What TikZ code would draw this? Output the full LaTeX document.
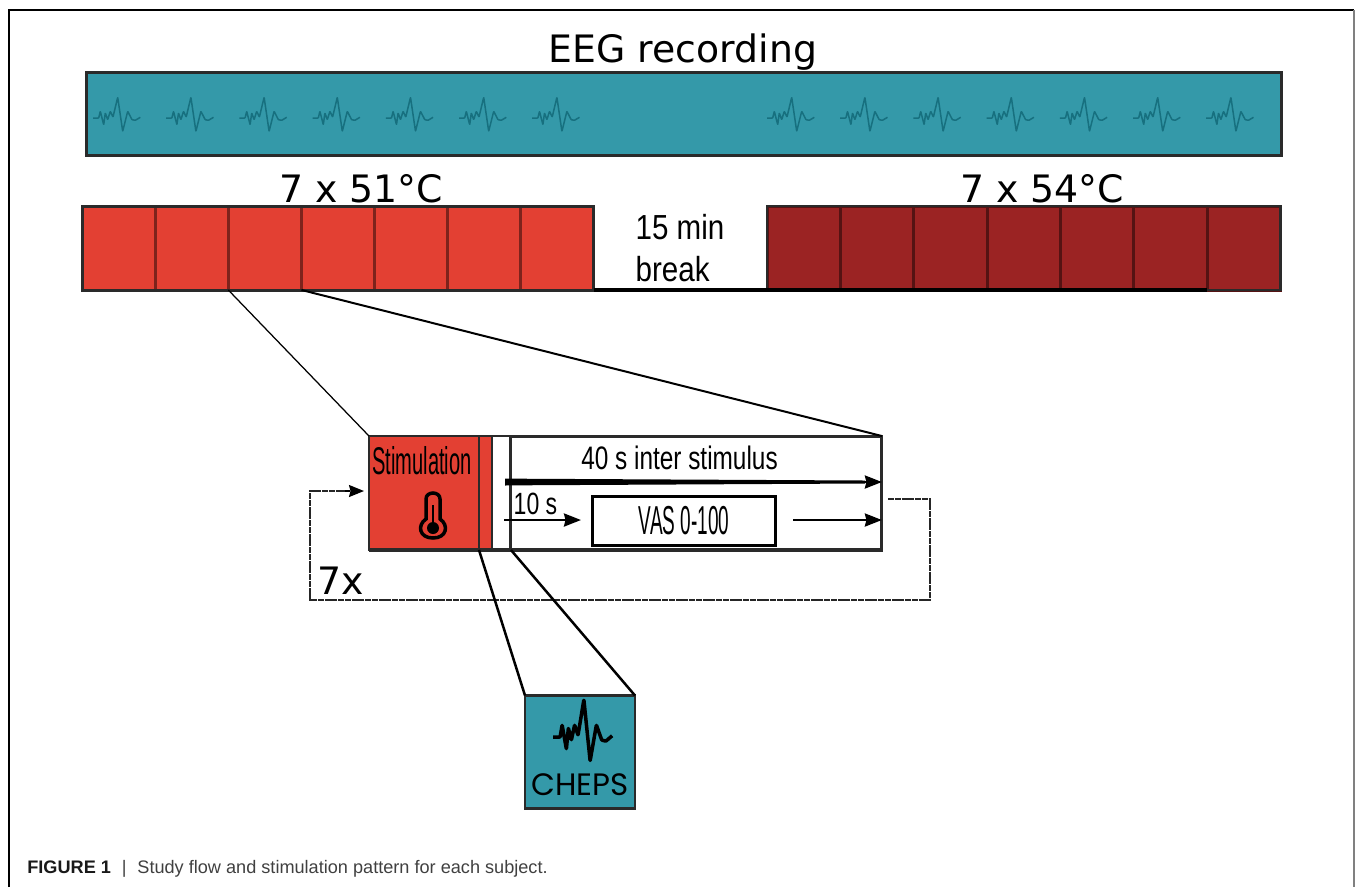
\documentclass[tikz,border=0pt]{standalone}
\usepackage{fontspec}
\usepackage{tikz}
\usetikzlibrary{arrows.meta, positioning}
\setmainfont{DejaVu Sans}
\newfontfamily\capfont{Liberation Sans}
\newfontfamily\cheapfont{Poppins}
\newfontfamily\narrowfont[FakeStretch=0.75]{Liberation Sans}
\newfontfamily\breakfont[FakeStretch=0.85]{Liberation Sans}
\newfontfamily\stimfont[FakeStretch=0.52]{Liberation Sans}
\newfontfamily\vasfont[FakeStretch=0.47]{Liberation Sans}
\definecolor{mTeal}{HTML}{3499A9}
\definecolor{mTealDark}{HTML}{17707F}
\definecolor{mRed}{HTML}{E34033}
\definecolor{mDarkRed}{HTML}{9B2323}
\definecolor{mEdge}{HTML}{2A2A2A}

\begin{document}
\begin{tikzpicture}[
    x=0.02cm, y=-0.02cm,
    tealbox/.style={draw=mEdge, line width=0.06cm, fill=mTeal, inner sep=0, outer sep=0},
    redcell/.style={draw=black!45!mRed, line width=0.06cm, fill=mRed, minimum width=1.463cm, minimum height=1.68cm, inner sep=0, outer sep=0},
    darkcell/.style={draw=black!45!mDarkRed, line width=0.06cm, fill=mDarkRed, minimum width=1.468cm, minimum height=1.68cm, inner sep=0, outer sep=0},
    stimpart/.style={draw=mEdge, line width=0.04cm, minimum height=2.28cm, inner sep=0, outer sep=0},
    lab/.style={inner sep=0, font=\fontsize{21.5}{24}\selectfont},
    outline/.style={draw=mEdge, line width=0.06cm},
    zoomline/.style={draw=black, line width=0.05cm},
    arr/.style={-{Stealth[length=0.34cm, width=0.26cm, inset=0.03cm]}, line width=0.05cm},
    loopline/.style={draw=black!85, line width=0.03cm, dash pattern=on 0.12cm off 0.015cm},
    wave/.pic={
        \draw[line join=round, rounded corners=0.3pt, pic actions] (0,0) -- (5.7,0) -- (7.3,-6.7) -- (10.7,6.7) -- (12.3,-5) -- (14.7,1.7)
            -- (17.3,-6.7) -- (20,-1) -- (24.7,-20.7) -- (29.7,13.3) -- (34.7,-6.7) -- (39,1.7) -- (42.3,2.3) -- (47.3,-0.7);
    }
]
    \useasboundingbox (0,0) rectangle (1355,887);

    % Frame
    \coordinate (fbl) at (9,887);
    \coordinate (ftl) at (9,10);
    \coordinate (ftr) at (1354,10);
    \coordinate (fbr) at (1354,887);
    \draw[line width=0.03cm] (fbl) -- (ftl) -- (ftr);
    \draw[line width=0.03cm, gray] (ftr) -- (fbr);

    % EEG
    \node[lab] (eegl) at (683,52) {EEG recording};
    \node[tealbox, minimum width=23.92cm, minimum height=1.66cm] (eeg) at (684,113.5) {};
    \foreach \x in {93,166.2,239.4,312.6,385.8,459,532.2,767,840.2,913.4,986.6,1059.8,1133,1206.2}
        \pic[draw=mTealDark, line width=0.03cm] at (\x,118) {wave};

    % 51 degrees
    \node[redcell] (r1) at (118.6,248) {};
    \foreach \i [remember=\i as \j (initially 1)] in {2,...,7}
        \node[redcell, right=0pt of r\j] (r\i) {};
    \draw[outline] (r1.north west) rectangle (r7.south east);
    \node[lab] (rl) at (361,189) {7 x 51°C};

    % 54 degrees
    \node[darkcell] (b1) at (803.7,248) {};
    \foreach \i [remember=\i as \j (initially 1)] in {2,...,7}
        \node[darkcell, right=0pt of b\j] (b\i) {};
    \draw[draw=mEdge, line width=0.05cm] (b1.north west) rectangle (b7.south east);
    \draw[line width=0.09cm] (r7.south east) -- (b1.south west) -- (b6.south east);
    \node[lab] (bl) at (1042,189) {7 x 54°C};

    % Break
    \node[inner sep=0, align=left, font=\fontsize{19.8}{23.8}\selectfont\breakfont] (brk) at (680,248) {15 min\\break};

    % Stimulation block
    \node[stimpart, fill=mRed, minimum width=2.2cm, anchor=west] (stim) at (369,493) {};
    \node[stimpart, fill=mRed, minimum width=0.26cm, right=0pt of stim] (pulse) {};
    \node[stimpart, line width=0.025cm, minimum width=0.38cm, right=0pt of pulse] (gap) {};
    \node[stimpart, line width=0.06cm, minimum width=7.42cm, right=0pt of gap] (rest) {};
    \draw[line width=0.05cm, mEdge] (stim.north west) -- (rest.north east);
    \draw[line width=0.07cm, mEdge] (stim.south west) -- (rest.south east);
    \node[inner sep=0, font=\fontsize{22}{24}\selectfont\stimfont] (stiml) at (422,461) {Stimulation};

    % Thermometer
    \draw[line width=0.07cm] (426,519) -- (426,499) .. controls (426,491) and (440,491) .. (440,499) -- (440,519)
        .. controls (449,525) and (447,538) .. (433,538) .. controls (419,538) and (417,525) .. (426,519) -- cycle;
    \fill (433,528) circle [radius=0.12cm];
    \draw[line width=0.03cm] (433,505) -- (433,525);

    % Timing
    \node[inner sep=0, font=\fontsize{18.5}{20}\selectfont\narrowfont] (isi) at (679.5,458) {40 s inter stimulus};
    \node[inner sep=0, font=\fontsize{17.5}{20}\selectfont\narrowfont] (tens) at (535.5,504) {10 s};
    \node[draw=black, line width=0.06cm, minimum width=3.65cm, minimum height=0.98cm, inner sep=0, outer sep=0,
        font=\fontsize{23}{24}\selectfont\vasfont] (vas) at (684,520.5) {VAS 0-100};
    \coordinate (isia) at (505,482);
    \coordinate (tena) at (504,520);
    \coordinate (vasa) at (793,520);
    \fill (505,478.5) -- (520,478.7) -- (865,480.5) -- (865,483.5) -- (520,485.3) -- (505,485.5) -- cycle;
    \draw[arr] (isia) -- (rest.east |- isia);
    \draw[arr] (tena) -- (581,520);
    \draw[arr] (vasa) -- (rest.east |- vasa);

    % Loop
    \coordinate (lo) at (888,499);
    \coordinate (lne) at (930,499);
    \coordinate (lse) at (930,600);
    \coordinate (lsw) at (310,600);
    \coordinate (lnw) at (310,491);
    \coordinate (lin) at (stim.west |- lnw);
    \draw[loopline] (lo) -- (lne) -- (lse) -- (lsw) -- (lnw) -- (345,491);
    \draw[-{Stealth[length=0.3cm, width=0.24cm, inset=0.03cm]}, line width=0.03cm, dashed, shorten >=0.1cm] (345,491) -- (lin);
    \node[lab] (sevenx) at (341,581) {7x};

    % CHEPS
    \node[tealbox, line width=0.05cm, minimum width=2.2cm, minimum height=2.26cm] (cheps) at (580,752) {};
    \pic[draw=black, line width=0.07cm, xscale=1.25, yscale=1.8] at (553,737) {wave};
    \node[inner sep=0, font=\fontsize{17.6}{20}\selectfont\cheapfont] (chepsl) at (580,785) {CHEPS};

    % Zoom lines
    \draw[zoomline, line width=0.025cm] (r2.south east) -- (stim.north west);
    \draw[zoomline, line width=0.04cm] (r3.south east) -- (rest.north east);
    \draw[zoomline] (pulse.south west) -- (cheps.north west);
    \draw[zoomline] (gap.south east) -- (cheps.north east);

    % Caption
    \node[anchor=base west, inner sep=0, font=\fontsize{10.32}{12}\selectfont\capfont, text=black!75] (cap) at (27,873)
        {\textbf{\textcolor{black!90}{FIGURE 1}}\hspace{0.6em}|\hspace{0.6em}Study flow and stimulation pattern for each subject.};
\end{tikzpicture}
\end{document}
